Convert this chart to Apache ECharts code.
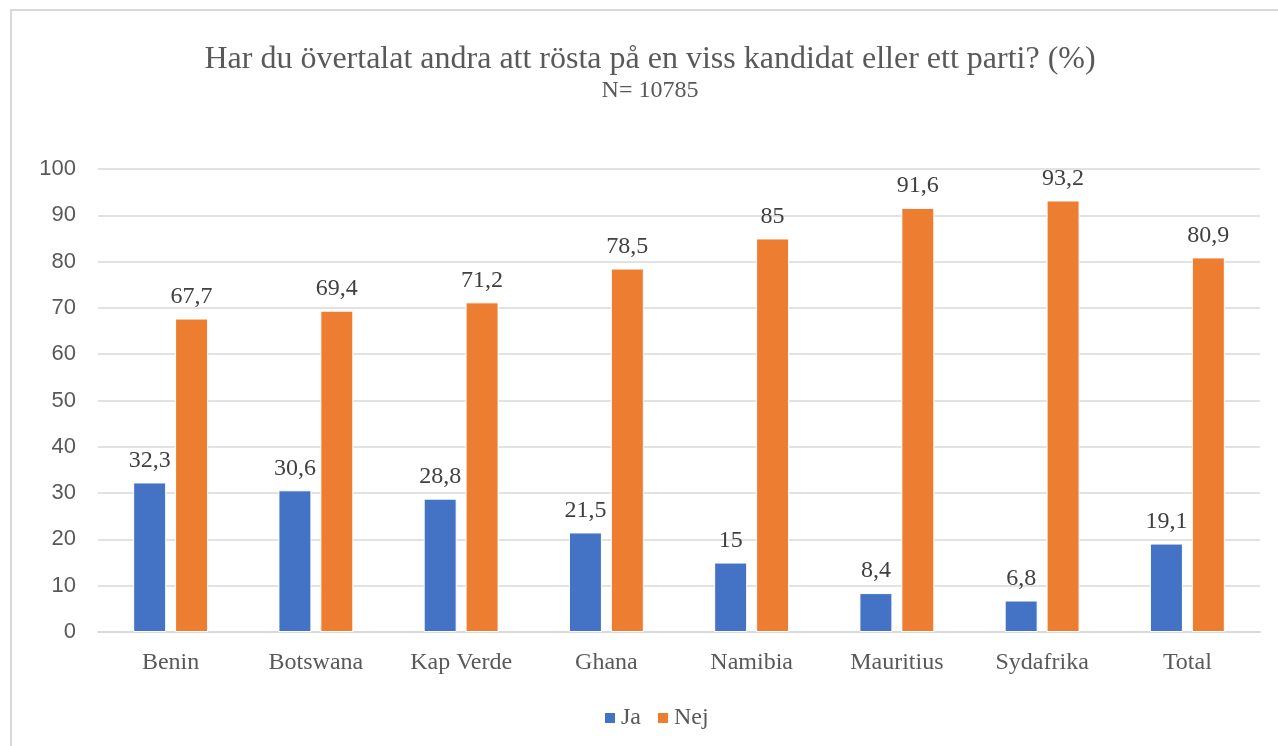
<!DOCTYPE html>
<html>
<head>
<meta charset="utf-8">
<script src="https://cdn.jsdelivr.net/npm/echarts@6/dist/echarts.min.js"></script>
<style>
  html, body { margin: 0; padding: 0; background: #fff; overflow: hidden; }
  .frame {
    position: absolute; left: 10px; top: 9px; width: 1300px; height: 800px;
    border: 2px solid #d9d9d9; box-sizing: border-box;
  }
  #chart { position: absolute; left: 0; top: 0; width: 1278px; height: 746px; }
</style>
</head>
<body>
<div class="frame"></div>
<div id="chart"></div>
<script>
// data
const categories = ['Benin', 'Botswana', 'Kap Verde', 'Ghana', 'Namibia', 'Mauritius', 'Sydafrika', 'Total']
const jaValues = [32.3, 30.6, 28.8, 21.5, 15, 8.4, 6.8, 19.1]
const nejValues = [67.7, 69.4, 71.2, 78.5, 85, 91.6, 93.2, 80.9]
const seriesNames = ['Ja', 'Nej']

const serif = '"Liberation Serif", "DejaVu Serif", serif'
const sans = '"Liberation Sans", "DejaVu Sans", sans-serif'

// komma som decimaltecken
const fmt = (p) => String(p.value).replace('.', ',')

const barSeries = (name, data, color) => ({
  name,
  type: 'bar',
  data,
  barWidth: 33,
  barGap: '27%',
  itemStyle: {
    color,
    borderColor: '#ffffff',
    borderWidth: 1
  },
  label: {
    show: true,
    position: 'top',
    distance: 10,
    formatter: fmt,
    fontFamily: serif,
    fontSize: 24,
    color: '#404040'
  }
})

const chart = echarts.init(document.getElementById('chart'))
chart.setOption({
  animation: false,
  title: {
    text: 'Har du övertalat andra att rösta på en viss kandidat eller ett parti? (%)',
    subtext: 'N= 10785',
    left: 650,
    top: 44,
    padding: 0,
    textAlign: 'center',
    itemGap: 3,
    textStyle: {
      fontFamily: serif,
      fontSize: 32,
      fontWeight: 'normal',
      color: '#595959'
    },
    subtextStyle: {
      fontFamily: serif,
      fontSize: 24,
      color: '#595959'
    }
  },
  legend: {
    data: seriesNames,
    left: 603,
    top: 706,
    padding: 0,
    itemWidth: 12,
    itemHeight: 12,
    itemGap: 15,
    icon: 'rect',
    textStyle: {
      fontFamily: serif,
      fontSize: 24,
      color: '#595959'
    }
  },
  grid: {
    left: 98,
    right: 18,
    top: 169,
    bottom: 114,
    containLabel: false
  },
  xAxis: {
    type: 'category',
    data: categories,
    axisLine: { lineStyle: { color: '#d9d9d9', width: 2 } },
    axisTick: { show: false },
    axisLabel: {
      fontFamily: serif,
      fontSize: 24,
      color: '#595959',
      margin: 19
    }
  },
  yAxis: {
    type: 'value',
    min: 0,
    max: 100,
    interval: 10,
    axisLine: { show: false },
    axisTick: { show: false },
    axisLabel: {
      fontFamily: sans,
      fontSize: 22,
      color: '#595959',
      margin: 22
    },
    splitLine: { lineStyle: { color: '#d9d9d9', width: 1.5 } }
  },
  series: [
    barSeries(seriesNames[0], jaValues, '#4472C4'),
    barSeries(seriesNames[1], nejValues, '#ED7D31')
  ]
})
</script>
</body>
</html>
